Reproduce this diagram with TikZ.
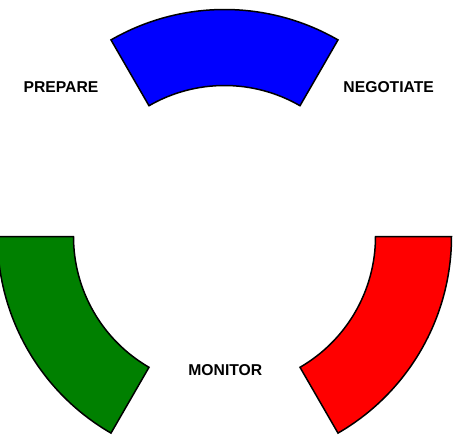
\documentclass[tikz,border=0pt]{standalone}
\usepackage{fontspec}
\setmainfont{Liberation Sans}
\usepackage{tikz}

\begin{document}
\begin{tikzpicture}[x=0.5pt, y=0.5pt,
    sector/.style={draw=black, line width=0.75pt, line join=miter},
    phase/.style={inner sep=0pt, font=\fontsize{7.85}{9.4}\selectfont\bfseries}
]
    \clip (-224.5,-198.5) rectangle (230.5,236.5);

    % ========== Sectors ==========
    \draw[sector, fill=blue]
        (60:151) arc[start angle=60, end angle=120, radius=151]
        -- (120:227) arc[start angle=120, end angle=60, radius=227] -- cycle;
    \draw[sector, fill=green!50!black]
        (180:151) arc[start angle=180, end angle=240, radius=151]
        -- (240:227) arc[start angle=240, end angle=180, radius=227] -- cycle;
    \draw[sector, fill=red]
        (300:151) arc[start angle=300, end angle=360, radius=151]
        -- (360:227) arc[start angle=360, end angle=300, radius=227] -- cycle;

    % ========== Labels ==========
    \node[phase] (prepare)   at (-163.5, 149.8) {PREPARE};
    \node[phase] (negotiate) at (164.2, 149.8)  {NEGOTIATE};
    \node[phase] (monitor)   at (0.8, -133.3)   {MONITOR};
\end{tikzpicture}
\end{document}
